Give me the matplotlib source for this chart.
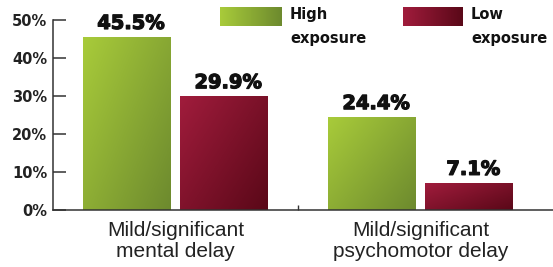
""" Grouped bar chart of delay rates by exposure level. """
import matplotlib.pyplot as plt
import matplotlib.patheffects as pe
import numpy as np
from matplotlib.colors import LinearSegmentedColormap

categories = ['Mild/significant\nmental delay', 'Mild/significant\npsychomotor delay']
high_exposure = [45.5, 24.4]
low_exposure = [29.9, 7.1]
yticks = [0, 10, 20, 30, 40, 50]
legend_labels = ['High\nexposure', 'Low\nexposure']

green_cmap = LinearSegmentedColormap.from_list('g', ['#a8cb3a', '#6d8a2e'])
red_cmap = LinearSegmentedColormap.from_list('r', ['#a01c3c', '#5a0818'])


def diagonal_gradient(n=64):
    """ 0 at top-left, 1 at bottom-right. """
    xx, yy = np.meshgrid(np.linspace(0, 1, n), np.linspace(0, 1, n))
    return (0.55 * xx + 0.45 * yy)


def fill_gradient(ax, bar, cmap):
    x0, y0 = bar.get_x(), bar.get_y()
    x1, y1 = x0 + bar.get_width(), y0 + bar.get_height()
    im = ax.imshow(diagonal_gradient(), cmap=cmap, extent=(x0, x1, y0, y1),
                   origin='upper', aspect='auto', zorder=bar.get_zorder(),
                   interpolation='bilinear')
    im.set_clip_path(bar)
    bar.set_facecolor('none')


def main():
    plt.rcParams['font.family'] = ['DejaVu Sans']

    fig = plt.figure(figsize=(5.53, 2.67), dpi=100)
    ax = fig.add_axes([0.0958, 0.2135, 0.9042, 0.7115])

    x = np.arange(len(categories))
    width = 0.359
    offset = 0.198

    bars_high = ax.bar(x - offset, high_exposure, width, zorder=2, linewidth=0)
    bars_low = ax.bar(x + offset, low_exposure, width, zorder=2, linewidth=0)

    for bar in bars_high:
        fill_gradient(ax, bar, green_cmap)
    for bar in bars_low:
        fill_gradient(ax, bar, red_cmap)

    # Value labels, thickened with a stroke to look like a black-weight face.
    heavy = [pe.withStroke(linewidth=0.9, foreground='#111111')]
    for bars in (bars_high, bars_low):
        for bar in bars:
            h = bar.get_height()
            ax.annotate(f'{h:.1f}%', (bar.get_x() + bar.get_width() / 2, h),
                        xytext=(3, 3), textcoords='offset points',
                        ha='center', va='bottom', fontsize=14,
                        fontweight='bold', color='#111111', clip_on=False,
                        path_effects=heavy)

    ax.set_xlim(-0.5, 1.54)
    ax.set_ylim(0, 50)

    ax.set_yticks(yticks)
    ax.set_yticklabels([f'{t}%' for t in yticks], fontsize=10.5,
                       fontweight='bold', color='#222222')
    ax.tick_params(axis='y', direction='in', length=9, width=1.1,
                   color='#333333', pad=4)

    ax.set_xticks(x)
    ax.set_xticklabels(categories, fontsize=15, family='Liberation Sans',
                       color='#222222', linespacing=1.1)
    ax.tick_params(axis='x', which='major', length=0, pad=8)
    ax.set_xticks([0.5], minor=True)
    ax.tick_params(axis='x', which='minor', direction='in', length=3.5,
                   width=1.0, color='#333333')

    for side in ('top', 'right'):
        ax.spines[side].set_visible(False)
    for side in ('left', 'bottom'):
        ax.spines[side].set_linewidth(1.1)
        ax.spines[side].set_color('#333333')

    # Legend drawn in pixel coordinates on an overlay axes.
    lax = fig.add_axes([0, 0, 1, 1], zorder=5)
    hgrad = np.tile(np.linspace(0, 1, 64), (4, 1))
    patches = [(220, 282), (403, 463)]
    for (px0, px1), cmap, label in zip(patches, [green_cmap, red_cmap], legend_labels):
        lax.imshow(hgrad, cmap=cmap, extent=(px0, px1, 26, 7),
                   aspect='auto', interpolation='bilinear')
        lax.text(px1 + 8, 7, label, ha='left', va='top', fontsize=10.5,
                 fontweight='bold', color='#111111', linespacing=1.75)
    lax.set_xlim(0, 553)
    lax.set_ylim(267, 0)
    lax.axis('off')

    fig.savefig('out.png', dpi=100)


if __name__ == '__main__':
    main()
